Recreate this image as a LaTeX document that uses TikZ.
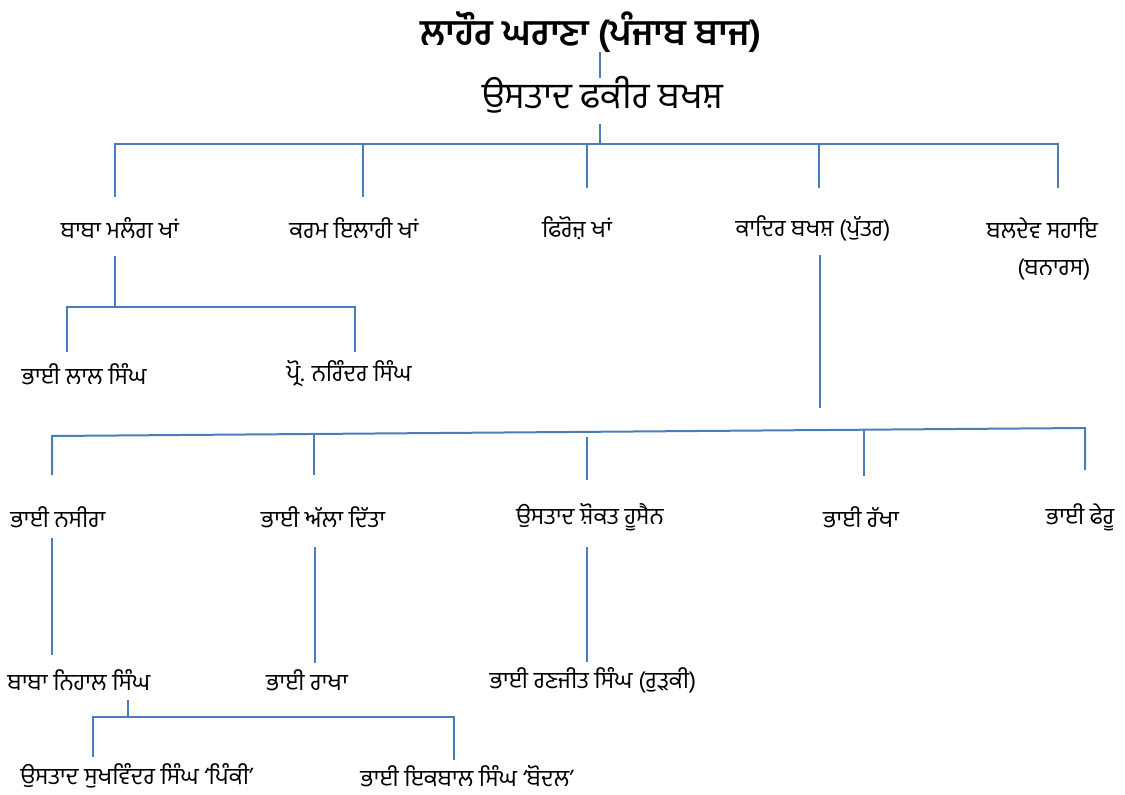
\documentclass[tikz,border=0pt]{standalone}
\usepackage{fontspec}
\newfontfamily\gur[Script=Gurmukhi]{Hind Jalandhar}
\begin{document}
\begin{tikzpicture}[x=0.75pt,y=-0.75pt,
  lbl/.style={inner sep=0pt,anchor=center,font=\gur\fontsize{17.5}{20}\selectfont},
  big/.style={inner sep=0pt,anchor=center,font=\gur\fontsize{27}{30}\selectfont},
  ttl/.style={inner sep=0pt,anchor=center,font=\gur\bfseries\fontsize{27}{30}\selectfont},
  ln/.style={draw={rgb,255:red,74;green,126;blue,187},line width=1.5pt}]
\useasboundingbox (0,0) rectangle (1125,795);
% texts
\node[ttl] (title) at (591,32) {ਲਾਹੌਰ ਘਰਾਣਾ (ਪੰਜਾਬ ਬਾਜ)};
\node[big] (fakir) at (603,95) {ਉਸਤਾਦ ਫਕੀਰ ਬਖਸ਼};
\node[lbl] (malang) at (120,228) {ਬਾਬਾ ਮਲੰਗ ਖਾਂ};
\node[lbl] (karam) at (354,228) {ਕਰਮ ਇਲਾਹੀ ਖਾਂ};
\node[lbl] (firoz) at (577,228) {ਫਿਰੋਜ਼ ਖਾਂ};
\node[lbl] (kadir) at (813,228) {ਕਾਦਿਰ ਬਖਸ਼ (ਪੁੱਤਰ)};
\node[lbl] (baldev) at (1042,228) {ਬਲਦੇਵ ਸਹਾਇ};
\node[lbl] (banaras) at (1054,270) {(ਬਨਾਰਸ)};
\node[lbl] (lal) at (84,374) {ਭਾਈ ਲਾਲ ਸਿੰਘ};
\node[lbl] (narinder) at (349,374) {ਪ੍ਰੋ. ਨਰਿੰਦਰ ਸਿੰਘ};
\node[lbl] (nasira) at (58,517) {ਭਾਈ ਨਸੀਰਾ};
\node[lbl] (alla) at (323,517) {ਭਾਈ ਅੱਲਾ ਦਿੱਤਾ};
\node[lbl] (shaukat) at (590,517) {ਉਸਤਾਦ ਸ਼ੋਕਤ ਹੂਸੈਨ};
\node[lbl] (rakkha) at (861,517) {ਭਾਈ ਰੱਖਾ};
\node[lbl] (pheru) at (1080,517) {ਭਾਈ ਫੇਰੂ};
\node[lbl] (nihal) at (79,680) {ਬਾਬਾ ਨਿਹਾਲ ਸਿੰਘ};
\node[lbl] (rakha) at (307,680) {ਭਾਈ ਰਾਖਾ};
\node[lbl] (ranjit) at (593,680) {ਭਾਈ ਰਣਜੀਤ ਸਿੰਘ (ਰੁੜਕੀ)};
\node[lbl] (sukhwinder) at (137,776) {ਉਸਤਾਦ ਸੁਖਵਿੰਦਰ ਸਿੰਘ ‘ਪਿੰਕੀ’};
\node[lbl] (iqbal) at (467,776) {ਭਾਈ ਇਕਬਾਲ ਸਿੰਘ ‘ਬੋਦਲ’};
% connector points
\coordinate (t1) at (600,52); \coordinate (t2) at (600,78);
\coordinate (f1) at (600,124); \coordinate (f2) at (600,144);
\coordinate (bL) at (115,144); \coordinate (bR) at (1058,144);
\coordinate (a1) at (115,197); \coordinate (a2t) at (363,144); \coordinate (a2) at (363,197);
\coordinate (a3t) at (587,144); \coordinate (a3) at (587,188);
\coordinate (a4t) at (819,144); \coordinate (a4) at (819,188);
\coordinate (a5) at (1058,188);
\coordinate (m1) at (115,256); \coordinate (m2) at (115,307);
\coordinate (mL) at (67,307); \coordinate (mR) at (355,307);
\coordinate (mL2) at (67,352); \coordinate (mR2) at (355,352);
\coordinate (k1) at (820,255); \coordinate (k2) at (820,408);
\coordinate (sL) at (52,436); \coordinate (sR) at (1085,428);
\coordinate (s1) at (52,475);
\coordinate (s2t) at (314,434); \coordinate (s2) at (314,475);
\coordinate (s3t) at (587,437); \coordinate (s3) at (587,480);
\coordinate (s4t) at (864,430); \coordinate (s4) at (864,476);
\coordinate (s5) at (1085,470);
\coordinate (n1) at (52,538); \coordinate (n2) at (52,655);
\coordinate (al1) at (315,547); \coordinate (al2) at (315,663);
\coordinate (sh1) at (587,547); \coordinate (sh2) at (587,662);
\coordinate (h1) at (128,700); \coordinate (h2) at (128,717);
\coordinate (hL) at (93,717); \coordinate (hR) at (454,717);
\coordinate (hL2) at (93,757); \coordinate (hR2) at (454,760);
% connectors
\draw[ln] (t1) -- (t2);
\draw[ln] (f1) -- (f2);
\draw[ln] (a1) -- (bL) -- (bR) -- (a5);
\draw[ln] (a2t) -- (a2);
\draw[ln] (a3t) -- (a3);
\draw[ln] (a4t) -- (a4);
\draw[ln] (m1) -- (m2);
\draw[ln] (mL2) -- (mL) -- (mR) -- (mR2);
\draw[ln] (k1) -- (k2);
\draw[ln] (s1) -- (sL) -- (sR) -- (s5);
\draw[ln] (s2t) -- (s2);
\draw[ln] (s3t) -- (s3);
\draw[ln] (s4t) -- (s4);
\draw[ln] (n1) -- (n2);
\draw[ln] (al1) -- (al2);
\draw[ln] (sh1) -- (sh2);
\draw[ln] (h1) -- (h2);
\draw[ln] (hL2) -- (hL) -- (hR) -- (hR2);
\end{tikzpicture}
\end{document}
